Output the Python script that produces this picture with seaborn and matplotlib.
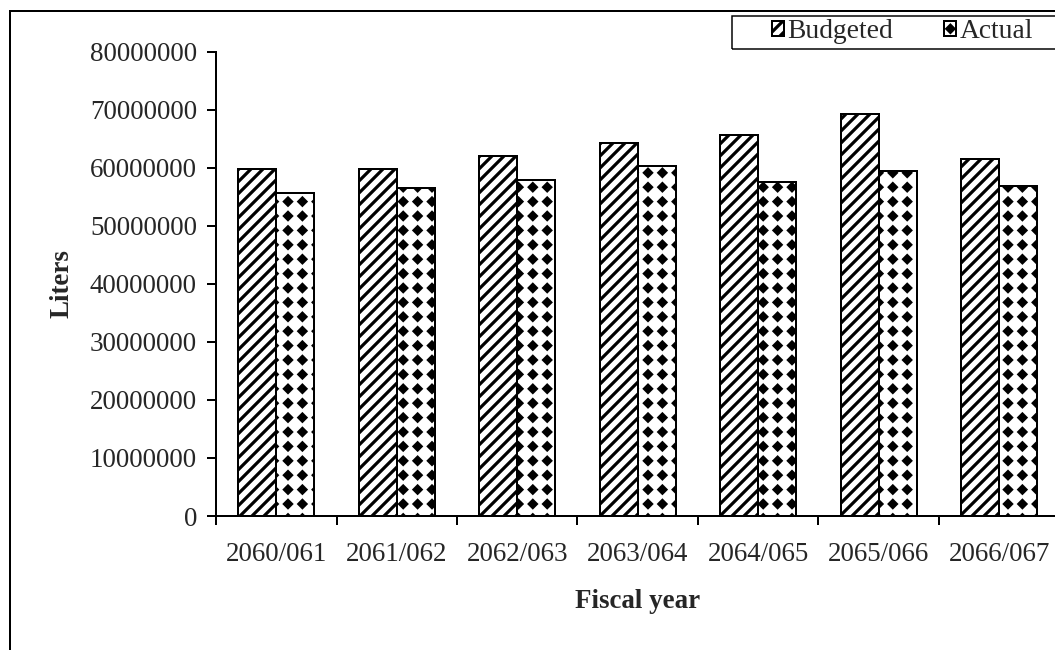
import numpy as np
import pandas as pd
import matplotlib
matplotlib.use('Agg')
import matplotlib.pyplot as plt
import matplotlib.hatch as mhatch
from matplotlib.path import Path
from matplotlib.patches import Rectangle
import seaborn as sns

years = ['2060/061', '2061/062', '2062/063', '2063/064', '2064/065', '2065/066', '2066/067']
budgeted = [59800000, 59800000, 62100000, 64300000, 65600000, 69200000, 61500000]
actual = [55700000, 56500000, 57900000, 60300000, 57500000, 59400000, 56900000]
series = ['Budgeted', 'Actual']


class DiamondHatch(mhatch.HatchPatternBase):
    # '.' hatch redrawn as a grid of solid diamonds (excel style fill)
    def __init__(self, hatch, density):
        n = hatch.count('.') * 5
        self.num_rows = n
        self.num_vertices = (n + 1) ** 2 * 5 if n else 0

    def set_vertices_and_codes(self, vertices, codes):
        n = self.num_rows
        step = 1.0 / n
        unit = np.array([[0, 1], [1, 0], [0, -1], [-1, 0], [0, 1]], float)
        centers = [(i * step, j * step) for i in range(n + 1) for j in range(n + 1)]
        parts = [unit * step * 0.24 + c for c in centers]
        vertices[:] = np.concatenate(parts)
        codes[:] = np.tile([Path.MOVETO, Path.LINETO, Path.LINETO, Path.LINETO, Path.CLOSEPOLY], len(parts))


mhatch._hatch_types[mhatch._hatch_types.index(mhatch.SmallFilledCircles)] = DiamondHatch

sns.set_style('white')
plt.rcParams['font.family'] = ['Liberation Serif', 'DejaVu Serif']
plt.rcParams['hatch.linewidth'] = 3.2
plt.rcParams['axes.linewidth'] = 2
plt.rcParams['axes.edgecolor'] = 'black'

df = pd.DataFrame({
    'year': years * 2,
    'liters': budgeted + actual,
    'series': [series[0]] * len(years) + [series[1]] * len(years),
})

W, H = 1055, 650
fig = plt.figure(figsize=(W / 72, H / 72), dpi=72)
ax = fig.add_axes([216 / W, 134 / H, 843.5 / W, 464.3 / H])

sns.barplot(data=df, x='year', y='liters', hue='series', palette=['white', 'white'],
            saturation=1, width=0.63, edgecolor='black', linewidth=2,
            errorbar=None, legend=False, ax=ax)

for cont, h in zip(ax.containers, ['//', '.']):
    for bar in cont:
        bar.set_hatch(h)

ax.set_ylim(0, 80000000)
ax.set_yticks(range(0, 80000001, 10000000))
ax.ticklabel_format(style='plain', axis='y', useOffset=False)
ax.set_xlim(-0.5, len(years) - 0.5)
ax.set_xticks(np.arange(-0.5, len(years), 1), minor=True)

ax.tick_params(axis='y', length=9, width=2, pad=10, labelsize=27, color='black', left=True)
ax.tick_params(axis='x', which='major', length=0, pad=26, labelsize=27)
ax.tick_params(axis='x', which='minor', length=9, width=2, direction='out', bottom=True, color='black')
sns.despine(ax=ax)

ax.set_ylabel('Liters', fontsize=27, fontweight='bold')
ax.yaxis.set_label_coords(-0.168, 0.5)
ax.set_xlabel('Fiscal year', fontsize=27, fontweight='bold')
ax.xaxis.set_label_coords(0.5, -0.157)

fig.legend(handles=list(ax.containers), labels=series, loc='center left',
           bbox_to_anchor=(758 / W, 1 - 32 / H), ncol=2, frameon=False,
           handlelength=0.45, handleheight=0.45, handletextpad=0.12,
           columnspacing=1.85, borderpad=0, fontsize=27.5)

# outer chart frame and legend box (both run off the right edge)
fig.add_artist(Rectangle((10 / W, -0.1), 1.2, 1.1 - 11 / H, transform=fig.transFigure,
                         fill=False, lw=2, ec='black'))
fig.add_artist(Rectangle((732 / W, 1 - 49 / H), 0.5, 33 / H, transform=fig.transFigure,
                         fill=False, lw=1.5, ec='black'))

fig.savefig('out.png', dpi=72)
